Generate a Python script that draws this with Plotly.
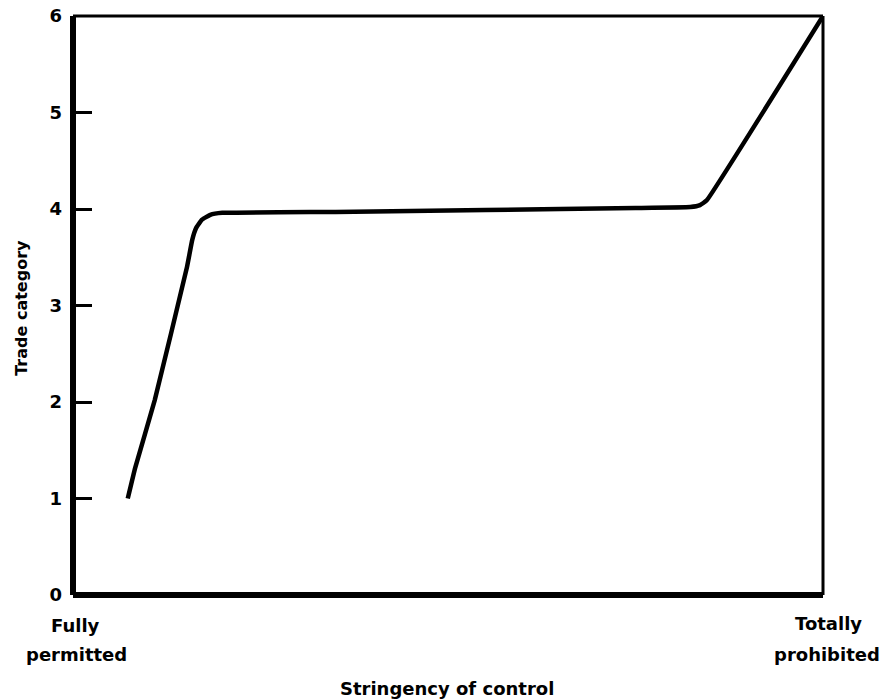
import plotly.graph_objects as go

# Data: stringency of control (0 = fully permitted, 10 = totally prohibited)
stringency = [0.73, 0.83, 1.09, 1.52, 1.59, 1.64, 1.72, 1.83, 1.99, 3.5, 5.5, 7.5, 8.23, 8.36, 8.45, 10.0]
trade_category = [1.0, 1.32, 2.02, 3.40, 3.68, 3.80, 3.89, 3.94, 3.96, 3.97, 3.99, 4.01, 4.02, 4.04, 4.09, 6.0]
y_ticks = [0, 1, 2, 3, 4, 5, 6]
y_ticklabels = ["0", "1", "2", "3", "4", "5", "6"]

FONT = "DejaVu Sans, Arial, sans-serif"


def ann(text, x, y, size=18, angle=0, xshift=0):
    return dict(text=f"<b>{text}</b>", xref="paper", yref="paper", x=x, y=y,
                xanchor="center", yanchor="middle", showarrow=False, textangle=angle,
                xshift=xshift, font=dict(family=FONT, size=size, color="black"))


fig = go.Figure()
fig.add_trace(go.Scatter(
    x=stringency, y=trade_category, mode="lines",
    line=dict(color="black", width=4.5, shape="spline", smoothing=0.3),
    hoverinfo="skip", showlegend=False,
))

fig.update_layout(
    width=885, height=700,
    margin=dict(l=73, r=62, t=16, b=105, autoexpand=False),
    paper_bgcolor="white", plot_bgcolor="white",
    xaxis=dict(range=[0, 10], showgrid=False, zeroline=False, showticklabels=False,
               ticks="", showline=False, fixedrange=True, automargin=False),
    yaxis=dict(range=[0, 6], showgrid=False, zeroline=False, tickvals=y_ticks,
               ticktext=[f"<b>{t}</b>" for t in y_ticklabels],
               ticks="inside", ticklen=19, tickwidth=2.5, tickcolor="black",
               tickfont=dict(family=FONT, size=18, color="black"),
               ticklabelstandoff=10, showline=False, fixedrange=True, automargin=False),
    shapes=[
        dict(type="line", xref="paper", yref="paper", x0=0, x1=1, y0=1, y1=1,
             line=dict(color="black", width=3)),
        dict(type="line", xref="paper", yref="paper", x0=1, x1=1, y0=0, y1=1,
             line=dict(color="black", width=3)),
        dict(type="line", xref="paper", yref="paper", x0=0, x1=1, y0=0, y1=0,
             line=dict(color="black", width=6)),
        dict(type="line", xref="paper", yref="paper", x0=0, x1=0, y0=0, y1=1,
             line=dict(color="black", width=6)),
    ],
    annotations=[
        ann("Trade category", 0, 0.496, size=16, angle=-90, xshift=-51),
        ann("Fully", 0.003, -0.0535),
        ann("permitted", 0.004, -0.102),
        ann("Totally", 1.007, -0.050),
        ann("prohibited", 1.005, -0.102),
        ann("Stringency of control", 0.499, -0.162),
    ],
)

fig.write_html("out.html", config={"displayModeBar": False},
               post_script="document.body.style.margin='0';document.body.style.overflow='hidden';")
